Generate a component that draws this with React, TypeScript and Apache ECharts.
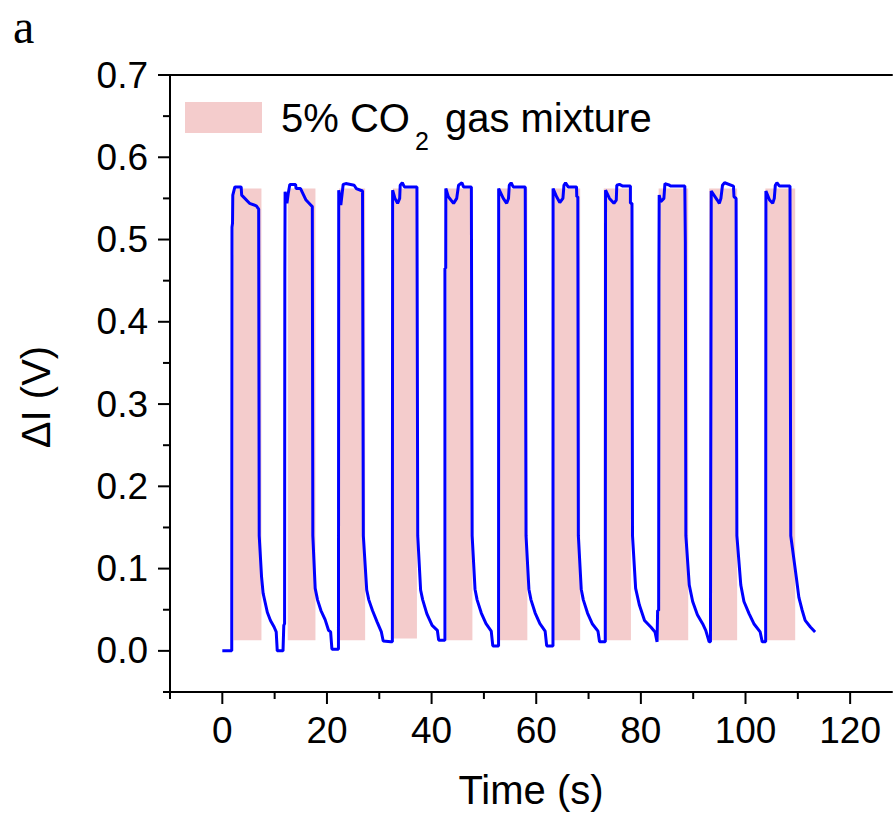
import React, { useEffect, useRef } from "react";
import * as echarts from "echarts";

// Signal ΔI (V) vs time (s), one array per gas cycle
const cycle1 = [[0, 0], [1.8, 0], [1.85, 0.515], [1.95, 0.52], [2.0, 0.554], [2.4, 0.564], [3.6, 0.564], [3.7, 0.554], [5.2, 0.544], [6.5, 0.541], [6.95, 0.537], [7.05, 0.14], [7.5, 0.09], [7.8, 0.07], [8.6, 0.047], [9.2, 0.037], [9.9, 0.029], [10.3, 0.023], [10.5, 0.0], [11.6, 0.0], [11.75, 0.031]];
const cycle2 = [[11.9, 0.033], [11.95, 0.46], [12.0, 0.558], [12.35, 0.544], [12.6, 0.556], [12.9, 0.567], [14.0, 0.567], [14.1, 0.562], [14.95, 0.562], [16.0, 0.548], [16.9, 0.542], [17.2, 0.54], [17.3, 0.14], [17.75, 0.076], [18.2, 0.062], [18.85, 0.049], [19.65, 0.038], [20.3, 0.025], [20.7, 0.023], [20.95, 0.002], [22.0, 0.002]];
const cycle3 = [[22.2, 0.002], [22.25, 0.56], [22.65, 0.542], [23.1, 0.567], [23.6, 0.568], [25.2, 0.566], [25.6, 0.562], [26.8, 0.559], [26.95, 0.14], [27.6, 0.074], [28.0, 0.062], [28.7, 0.049], [29.6, 0.035], [30.4, 0.023], [30.75, 0.012], [32.2, 0.011]];
const cycle4 = [[32.5, 0.011], [32.55, 0.56], [33.0, 0.55], [33.5, 0.544], [33.9, 0.55], [34.0, 0.566], [34.4, 0.569], [34.8, 0.564], [37.2, 0.564], [37.35, 0.14], [37.9, 0.074], [38.3, 0.062], [39.1, 0.045], [40.1, 0.031], [41.1, 0.025], [41.35, 0.013], [42.4, 0.013]];
const cycle5 = [[42.55, 0.013], [42.55, 0.465], [42.7, 0.465], [42.72, 0.562], [43.2, 0.552], [44.2, 0.544], [44.8, 0.55], [45.15, 0.566], [45.8, 0.569], [46.1, 0.564], [47.6, 0.564], [47.75, 0.14], [48.3, 0.075], [48.7, 0.062], [49.5, 0.046], [50.4, 0.033], [51.4, 0.024], [51.7, 0.006], [52.6, 0.006]];
const cycle6 = [[52.8, 0.006], [52.82, 0.562], [53.7, 0.55], [54.35, 0.544], [54.7, 0.55], [54.85, 0.566], [55.2, 0.569], [55.6, 0.564], [57.9, 0.564], [58.05, 0.14], [58.6, 0.075], [59.0, 0.062], [59.8, 0.046], [60.7, 0.033], [61.7, 0.024], [62.0, 0.006], [63.0, 0.006]];
const cycle7 = [[63.2, 0.006], [63.22, 0.562], [63.9, 0.552], [64.5, 0.545], [65.1, 0.55], [65.3, 0.566], [65.6, 0.569], [66.1, 0.564], [67.7, 0.564], [67.75, 0.552], [67.95, 0.552], [68.05, 0.14], [68.6, 0.075], [69.0, 0.062], [69.8, 0.046], [70.7, 0.033], [71.8, 0.024], [72.1, 0.011], [72.8, 0.011]];
const cycle8 = [[73.2, 0.011], [73.25, 0.56], [74.0, 0.55], [74.85, 0.544], [75.3, 0.548], [75.4, 0.566], [75.9, 0.567], [76.55, 0.565], [78.0, 0.565], [78.0, 0.544], [78.3, 0.544], [78.4, 0.14], [79.0, 0.076], [79.7, 0.056], [80.7, 0.037], [81.9, 0.029], [82.7, 0.023], [83.1, 0.011], [83.2, 0.049], [83.4, 0.049]];
const cycle9 = [[83.45, 0.455], [83.5, 0.455], [83.5, 0.554], [83.8, 0.546], [84.4, 0.55], [84.6, 0.568], [85.5, 0.566], [85.6, 0.565], [88.4, 0.565], [88.5, 0.497], [88.6, 0.14], [89.25, 0.08], [89.9, 0.06], [90.8, 0.044], [91.8, 0.033], [92.4, 0.025], [93.05, 0.011], [93.3, 0.011]];
const cycle10 = [[93.4, 0.011], [93.45, 0.559], [94.6, 0.548], [95.0, 0.544], [95.3, 0.55], [95.6, 0.566], [96.0, 0.569], [97.7, 0.565], [97.8, 0.552], [98.2, 0.55], [98.35, 0.14], [99.1, 0.08], [99.7, 0.06], [100.7, 0.045], [101.6, 0.033], [102.8, 0.023], [103.2, 0.011], [103.7, 0.011]];
const cycle11 = [[103.85, 0.011], [103.9, 0.559], [104.6, 0.548], [105.2, 0.544], [105.5, 0.55], [105.7, 0.566], [106.0, 0.569], [106.5, 0.565], [108.5, 0.565], [108.65, 0.14], [109.7, 0.09], [110.2, 0.065], [110.8, 0.05], [111.4, 0.037], [112.4, 0.029], [113.3, 0.023]];

// Gas-exposure windows (s) and their drawn height (V)
const bandStart = [2.15, 12.5, 22.3, 32.6, 42.9, 52.8, 63.3, 72.9, 83.4, 93.05, 103.8];
const bandEnd = [7.48, 17.8, 27.3, 37.2, 47.8, 58.3, 68.4, 78.1, 89.05, 98.4, 109.5];
const bandLow = [0.013, 0.013, 0.013, 0.015, 0.013, 0.013, 0.013, 0.013, 0.013, 0.013, 0.013];
const bandHigh = [0.562, 0.562, 0.562, 0.562, 0.562, 0.562, 0.562, 0.562, 0.562, 0.562, 0.562];

// Axis ranges and ticks
const xRange = [-10, 128];
const yRange = [-0.05, 0.7];
const xMajorTicks = [0, 20, 40, 60, 80, 100, 120];
const xMinorTicks = [-10, 10, 30, 50, 70, 90, 110];
const yMajorTicks = [0, 0.1, 0.2, 0.3, 0.4, 0.5, 0.6, 0.7];
const yMinorTicks = [-0.05, 0.05, 0.15, 0.25, 0.35, 0.45, 0.55, 0.65];

const legendParts = ["5% CO", "2", " gas mixture"];
const xName = "Time (s)";
const yName = "ΔI (V)";
const panelLabel = "a";

const FONT = "'Liberation Sans', Arial, sans-serif";

export default function App() {
  const ref = useRef<HTMLDivElement>(null);
  useEffect(() => {
    const chart = echarts.init(ref.current!, null, { renderer: "svg" });
    const signal = [...cycle1, ...cycle2, ...cycle3, ...cycle4, ...cycle5, ...cycle6, ...cycle7, ...cycle8, ...cycle9, ...cycle10, ...cycle11];
    const bands = bandStart.map((s, i) => [s, bandEnd[i], bandLow[i], bandHigh[i]]);

    const ctx = document.createElement("canvas").getContext("2d")!;
    ctx.font = "40px 'Liberation Sans'";
    const w1 = ctx.measureText(legendParts[0]).width;
    ctx.font = "25px 'Liberation Sans'";
    const w2 = ctx.measureText(legendParts[1]).width;
    const lx0 = 281;
    const lx1 = lx0 + w1 + 5;
    const lx2 = lx1 + w2 + 5;

    const black = "#000";
    const lineStyle = { color: black, width: 2 };
    const isMajorX = (v: number) => Math.abs(v / 20 - Math.round(v / 20)) < 1e-6 && v >= 0 && v <= 120;
    const isMajorY = (v: number) => Math.abs(v * 10 - Math.round(v * 10)) < 1e-6 && v >= -1e-9 && v <= 0.7 + 1e-9;

    const xTickSeries = (vals: number[], len: number) => ({
      type: "custom",
      xAxisIndex: 0, yAxisIndex: 0,
      data: vals.map((v) => [v, yRange[0]]),
      encode: { x: 0, y: 1 },
      clip: false, silent: true, z: 5,
      renderItem: (_p: any, api: any) => {
        const p = api.coord([api.value(0), api.value(1)]);
        return { type: "line", shape: { x1: p[0], y1: p[1], x2: p[0], y2: p[1] + len }, style: { stroke: black, lineWidth: 2 } };
      },
    });
    const yTickSeries = (vals: number[], len: number) => ({
      type: "custom",
      xAxisIndex: 0, yAxisIndex: 0,
      data: vals.map((v) => [xRange[0], v]),
      encode: { x: 0, y: 1 },
      clip: false, silent: true, z: 5,
      renderItem: (_p: any, api: any) => {
        const p = api.coord([api.value(0), api.value(1)]);
        return { type: "line", shape: { x1: p[0] - len, y1: p[1], x2: p[0], y2: p[1] }, style: { stroke: black, lineWidth: 2 } };
      },
    });

    const option: any = {
      animation: false,
      grid: { left: 170, top: 75, right: 0, bottom: 125, show: false },
      xAxis: [
        {
          type: "value", min: xRange[0], max: xRange[1], interval: 10, position: "bottom",
          axisLine: { show: true, onZero: false, lineStyle },
          axisTick: { show: false },
          axisLabel: {
            margin: 20, fontSize: 37, color: black, fontFamily: FONT,
            formatter: (v: number) => (isMajorX(v) ? String(Math.round(v)) : ""),
          },
          splitLine: { show: false },
          name: xName, nameLocation: "middle", nameGap: 78,
          nameTextStyle: { fontSize: 40, color: black, fontFamily: FONT },
        },
        {
          type: "value", min: xRange[0], max: xRange[1], position: "top", gridIndex: 0,
          axisLine: { show: true, onZero: false, lineStyle },
          axisTick: { show: false },
          axisLabel: { show: false },
          splitLine: { show: false },
        },
      ],
      yAxis: [
        {
          type: "value", min: yRange[0], max: yRange[1], interval: 0.05, position: "left",
          axisLine: { show: true, onZero: false, lineStyle },
          axisTick: { show: false },
          axisLabel: {
            margin: 22, fontSize: 37, color: black, fontFamily: FONT,
            formatter: (v: number) => (isMajorY(v) ? v.toFixed(1) : ""),
          },
          splitLine: { show: false },
        },
      ],
      series: [
        {
          type: "custom",
          xAxisIndex: 0, yAxisIndex: 0,
          data: bands,
          encode: { x: [0, 1], y: [2, 3] },
          silent: true,
          z: 1,
          renderItem: (_p: any, api: any) => {
            const a = api.coord([api.value(0), api.value(3)]);
            const b = api.coord([api.value(1), api.value(2)]);
            return {
              type: "rect",
              shape: { x: a[0], y: a[1], width: b[0] - a[0], height: b[1] - a[1] },
              style: { fill: "#F4CCCC" },
            };
          },
        },
        {
          type: "line",
          xAxisIndex: 0, yAxisIndex: 0,
          data: signal,
          symbol: "none",
          showSymbol: false,
          lineStyle: { color: "#0000FF", width: 3 },
          z: 3,
        },
        xTickSeries(xMajorTicks, 12),
        xTickSeries(xMinorTicks, 7),
        yTickSeries(yMajorTicks, 12),
        yTickSeries(yMinorTicks, 7),
      ],
      graphic: [
        {
          type: "text", left: 13, top: 2,
          style: { text: panelLabel, fontSize: 48, fontFamily: "'Liberation Serif', 'Times New Roman', serif", fill: black },
        },
        {
          type: "text", x: 35.5, y: 397, rotation: Math.PI / 2,
          style: { text: yName, fontSize: 40, fontFamily: FONT, fill: black, align: "center", verticalAlign: "middle" },
        },
        {
          type: "rect", shape: { x: 185, y: 102, width: 77, height: 31 },
          style: { fill: "#F4CCCC" },
        },
        {
          type: "text", x: lx0, y: 117.5,
          style: { text: legendParts[0], fontSize: 40, fontFamily: FONT, fill: black, verticalAlign: "middle" },
        },
        {
          type: "text", x: lx1, y: 140.5,
          style: { text: legendParts[1], fontSize: 25, fontFamily: FONT, fill: black, verticalAlign: "middle" },
        },
        {
          type: "text", x: lx2, y: 117.5,
          style: { text: legendParts[2], fontSize: 40, fontFamily: FONT, fill: black, verticalAlign: "middle" },
        },
      ],
    };
    chart.setOption(option);
    return () => chart.dispose();
  }, []);
  return <div ref={ref} style={{ position: "absolute", left: 0, top: 0, width: 895, height: 817 }} />;
}
